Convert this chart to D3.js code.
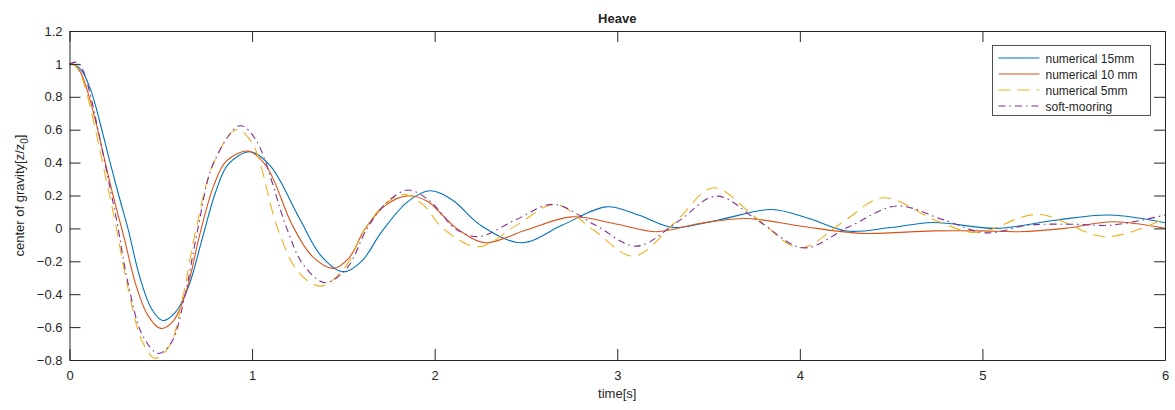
<!DOCTYPE html>
<html>
<head>
<meta charset="utf-8">
<script src="https://cdn.jsdelivr.net/npm/d3@7"></script>
<style>
  body { margin: 0; background: #fff; }
  text { font-family: "Liberation Sans", Arial, Helvetica, sans-serif; fill: #262626; }
</style>
</head>
<body>
<div id="chart"></div>
<script>
// Data (time in s, heave z/z0)
var t15 = [0, 0.03, 0.07, 0.12, 0.17, 0.22, 0.27, 0.32, 0.386, 0.45, 0.51, 0.58, 0.65, 0.73, 0.80, 0.87, 0.99, 1.10, 1.26, 1.38, 1.50, 1.60, 1.71, 1.85, 1.974, 2.10, 2.25, 2.476, 2.70, 2.94, 3.12, 3.305, 3.55, 3.846, 4.05, 4.256, 4.50, 4.73, 5.08, 5.40, 5.70, 6.0];
var v15 = [1.0, 0.995, 0.955, 0.83, 0.63, 0.41, 0.20, 0.0, -0.30, -0.49, -0.56, -0.51, -0.36, -0.05, 0.22, 0.39, 0.466, 0.38, 0.06, -0.17, -0.264, -0.20, -0.02, 0.16, 0.229, 0.17, 0.02, -0.087, 0.02, 0.131, 0.08, 0.006, 0.05, 0.115, 0.06, -0.016, 0.005, 0.036, 0.0, 0.05, 0.081, 0.034];

var t10 = [0, 0.03, 0.06, 0.10, 0.15, 0.20, 0.25, 0.30, 0.36, 0.43, 0.50, 0.57, 0.64, 0.715, 0.79, 0.86, 0.98, 1.08, 1.22, 1.33, 1.445, 1.53, 1.62, 1.73, 1.85, 1.96, 2.03, 2.12, 2.275, 2.50, 2.75, 3.0, 3.216, 3.45, 3.71, 4.0, 4.33, 4.73, 5.0, 5.2, 5.45, 5.715, 6.0];
var v10 = [1.0, 0.99, 0.95, 0.83, 0.62, 0.38, 0.15, -0.06, -0.33, -0.53, -0.608, -0.56, -0.38, -0.03, 0.26, 0.41, 0.47, 0.375, 0.02, -0.17, -0.243, -0.18, 0.0, 0.14, 0.198, 0.165, 0.095, 0.0, -0.087, -0.01, 0.07, 0.025, -0.02, 0.03, 0.06, 0.015, -0.03, -0.015, -0.015, -0.02, 0.0, 0.04, 0.0];

var t5 = [0, 0.03, 0.06, 0.10, 0.15, 0.20, 0.25, 0.32, 0.40, 0.47, 0.55, 0.62, 0.69, 0.79, 0.915, 1.0, 1.14, 1.25, 1.372, 1.50, 1.62, 1.73, 1.83, 1.94, 2.045, 2.24, 2.45, 2.66, 2.87, 3.09, 3.32, 3.526, 3.76, 4.0, 4.23, 4.457, 4.75, 4.97, 5.30, 5.68, 6.0];
var v5 = [1.0, 0.99, 0.94, 0.80, 0.56, 0.30, 0.04, -0.36, -0.69, -0.79, -0.71, -0.42, -0.02, 0.40, 0.60, 0.52, 0.0, -0.26, -0.351, -0.25, 0.0, 0.15, 0.207, 0.14, 0.0, -0.112, 0.02, 0.146, -0.01, -0.168, 0.04, 0.247, 0.065, -0.118, 0.034, 0.186, 0.045, -0.025, 0.085, -0.051, 0.06];

var tSoft = [0, 0.04, 0.07, 0.11, 0.16, 0.21, 0.26, 0.32, 0.40, 0.486, 0.56, 0.63, 0.70, 0.79, 0.934, 1.02, 1.19, 1.28, 1.40, 1.52, 1.63, 1.74, 1.855, 1.97, 2.03, 2.11, 2.24, 2.44, 2.65, 2.88, 3.106, 3.33, 3.544, 3.78, 4.02, 4.27, 4.53, 4.78, 5.02, 5.25, 5.5, 5.71, 6.0];
var vSoft = [1.0, 1.01, 0.97, 0.83, 0.58, 0.31, 0.04, -0.33, -0.65, -0.76, -0.69, -0.42, -0.02, 0.40, 0.624, 0.54, 0.0, -0.22, -0.33, -0.24, 0.0, 0.16, 0.233, 0.17, 0.10, 0.0, -0.05, 0.05, 0.146, 0.02, -0.108, 0.04, 0.196, 0.04, -0.118, 0.01, 0.136, 0.055, -0.027, 0.02, 0.025, 0.02, 0.081];

var seriesNames = ["numerical 15mm", "numerical 10 mm", "numerical 5mm", "soft-mooring"];
var seriesColors = ["#0072BD", "#D95319", "#EDB120", "#7E2F8E"];
var seriesDash = [null, null, "12,7", "7,4,1.5,4"];
var xTicks = [0, 1, 2, 3, 4, 5, 6];
var yTicks = [-0.8, -0.6, -0.4, -0.2, 0, 0.2, 0.4, 0.6, 0.8, 1, 1.2];

var width = 1175, height = 410;
var margin = { left: 69.5, right: 10, top: 31, bottom: 50 };

var svg = d3.select("#chart")
  .append("svg")
    .attr("width", width)
    .attr("height", height);

var x = d3.scaleLinear().domain([0, 6]).range([margin.left, 1165]);
var y = d3.scaleLinear().domain([-0.8, 1.2]).range([360, margin.top]);

// Build the series table
var allSeries = [[t15, v15], [t10, v10], [t5, v5], [tSoft, vSoft]].map(function(s, i) {
  return {
    name: seriesNames[i],
    color: seriesColors[i],
    dash: seriesDash[i],
    points: s[0].map(function(t, j) { return { t: t, v: s[1][j] }; })
  };
});

var line = d3.line()
  .x(function(d) { return x(d.t); })
  .y(function(d) { return y(d.v); })
  .curve(d3.curveCatmullRom.alpha(0.5));

svg.append("defs").append("clipPath").attr("id", "clip")
  .append("rect")
    .attr("x", x(0)).attr("y", y(1.2))
    .attr("width", x(6) - x(0)).attr("height", y(-0.8) - y(1.2));

svg.append("g")
  .attr("clip-path", "url(#clip)")
  .selectAll("path")
  .data(allSeries)
  .enter()
  .append("path")
    .attr("d", function(d) { return line(d.points); })
    .attr("fill", "none")
    .attr("stroke", function(d) { return d.color; })
    .attr("stroke-width", 1.1)
    .attr("stroke-dasharray", function(d) { return d.dash; });

// Axes (MATLAB style: ticks inside, box on)
var tickLen = 11;
var axisColor = "#262626";

var xAxisB = d3.axisBottom(x).tickValues(xTicks).tickSizeInner(-tickLen).tickSizeOuter(0).tickPadding(11).tickFormat(d3.format("~g"));
var xAxisT = d3.axisTop(x).tickValues(xTicks).tickSizeInner(-tickLen).tickSizeOuter(0).tickFormat("");
var yAxisL = d3.axisLeft(y).tickValues(yTicks).tickSizeInner(-tickLen).tickSizeOuter(0).tickPadding(7).tickFormat(d3.format("~g"));
var yAxisR = d3.axisRight(y).tickValues(yTicks).tickSizeInner(-tickLen).tickSizeOuter(0).tickFormat("");

function styleAxis(g) {
  g.selectAll(".domain").attr("stroke", axisColor);
  g.selectAll(".tick line").attr("stroke", axisColor);
  g.selectAll(".tick text")
    .attr("fill", axisColor)
    .style("font-size", "13px")
    .style("font-family", "'Liberation Sans', Arial, sans-serif");
}

svg.append("g").attr("transform", "translate(0," + y(-0.8) + ")").call(xAxisB).call(styleAxis);
svg.append("g").attr("transform", "translate(0," + y(1.2) + ")").call(xAxisT).call(styleAxis);
svg.append("g").attr("transform", "translate(" + x(0) + ",0)").call(yAxisL).call(styleAxis);
svg.append("g").attr("transform", "translate(" + x(6) + ",0)").call(yAxisR).call(styleAxis);

// Title and labels
svg.append("text")
  .attr("x", (x(0) + x(6)) / 2)
  .attr("y", 23)
  .attr("text-anchor", "middle")
  .style("font-weight", "bold")
  .style("font-size", "13px")
  .text("Heave");

svg.append("text")
  .attr("x", (x(0) + x(6)) / 2)
  .attr("y", 398)
  .attr("text-anchor", "middle")
  .style("font-size", "13px")
  .text("time[s]");

var yLabel = svg.append("text")
  .attr("transform", "translate(24," + ((y(1.2) + y(-0.8)) / 2) + ") rotate(-90)")
  .attr("text-anchor", "middle")
  .style("font-size", "13px");
yLabel.append("tspan").text("center of gravity[z/z");
yLabel.append("tspan").attr("dy", 4).style("font-size", "10px").text("0");
yLabel.append("tspan").attr("dy", -4).text("]");

// Legend
var legend = svg.append("g").attr("transform", "translate(992.5,45.5)");

legend.append("rect")
  .attr("width", 158)
  .attr("height", 70)
  .attr("fill", "#fff")
  .attr("stroke", axisColor)
  .attr("stroke-width", 0.8);

var items = legend.selectAll(".item")
  .data(allSeries)
  .enter()
  .append("g")
    .attr("class", "item")
    .attr("transform", function(d, i) { return "translate(0," + (12.5 + i * 16) + ")"; });

items.append("line")
  .attr("x1", 6).attr("x2", 47)
  .attr("stroke", function(d) { return d.color; })
  .attr("stroke-width", 1.1)
  .attr("stroke-dasharray", function(d) { return d.dash; });

items.append("text")
  .attr("x", 53)
  .attr("y", 4.5)
  .style("font-size", "12px")
  .text(function(d) { return d.name; });
</script>
</body>
</html>
